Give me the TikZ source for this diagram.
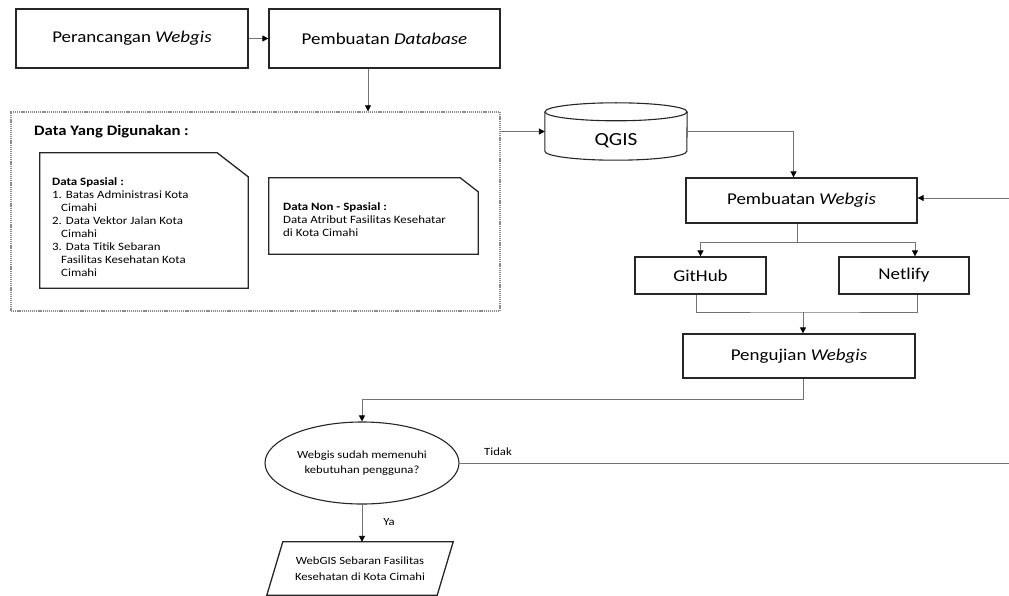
\documentclass[tikz,border=0pt]{standalone}
\usepackage{fontspec}
\setmainfont{Carlito}[FakeStretch=1.15]
\usetikzlibrary{arrows.meta,shapes.geometric}
\begin{document}
\begin{tikzpicture}[x=1pt,y=-1pt,
  box/.style={draw=black!85, line width=1.3pt, inner sep=0pt, font=\fontsize{16.5}{19}\selectfont},
  plain/.style={inner sep=0pt},
  con/.style={draw=black!55, line width=0.9pt},
  arr/.style={con, -{Triangle[length=6pt,width=6pt,black]}},
  small/.style={font=\fontsize{11.2}{13}\selectfont, align=left, inner sep=0pt},
  shapeline/.style={draw=black!85, line width=1.3pt, line join=miter}
]
\useasboundingbox (0,0) rectangle (1009,596);

% top row
\node[box, minimum width=232pt, minimum height=59pt] (p1) at (132,38.5) {Perancangan \textit{Webgis}};
\node[box, minimum width=231pt, minimum height=59pt] (p2) at (384.5,38.5) {Pembuatan \textit{Database}};
\draw[arr] (p1.east) -- (p2.west);

% data box
\node[draw=black!45, line width=1.4pt, dash pattern=on 1.2pt off 0.9pt, minimum width=489pt, minimum height=199pt, inner sep=0pt] (data) at (255.5,211.5) {};
\draw[arr] ([xshift=-16.5pt]p2.south) -- ([xshift=-16.5pt]p2.south |- data.north);
\node[plain, anchor=west, font=\fontsize{14.5}{17}\selectfont\bfseries] (dtitle) at (34,132) {Data Yang Digunakan :};

% data spasial
\node[plain, minimum width=208pt, minimum height=135pt] (sp) at (144,220.5) {};
\draw[shapeline] (sp.south west) -- (sp.north west) -- ([xshift=-31pt]sp.north east) -- ([yshift=-24pt]sp.north east) -- (sp.south east) -- cycle;
\node[small, anchor=north west] (sptext) at (52,177) {\textbf{Data Spasial :}\\
1. Batas Administrasi Kota\\
\hspace*{9pt}Cimahi\\
2. Data Vektor Jalan Kota\\
\hspace*{9pt}Cimahi\\
3. Data Titik Sebaran\\
\hspace*{9pt}Fasilitas Kesehatan Kota\\
\hspace*{9pt}Cimahi};

% data non spasial
\node[plain, minimum width=209pt, minimum height=76pt] (ns) at (373.5,216) {};
\draw[shapeline] (ns.south west) -- (ns.north west) -- ([xshift=-18pt]ns.north east) -- ([yshift=-14pt]ns.north east) -- (ns.south east) -- cycle;
\node[small, anchor=west] (nstext) at (283,220) {\textbf{Data Non - Spasial :}\\
Data Atribut Fasilitas Kesehatar\\
di Kota Cimahi};

% QGIS cylinder
\node[plain, minimum width=142pt, minimum height=57pt] (qgis) at (616,131.5) {};
\draw[draw=black!85, line width=1.1pt] ([yshift=-9pt]qgis.north west) -- ([yshift=9pt]qgis.south west)
  arc[start angle=180, end angle=360, x radius=71pt, y radius=9pt] -- ([yshift=-9pt]qgis.north east);
\draw[draw=black!85, line width=1.1pt] ([yshift=-9pt]qgis.north) ellipse[x radius=71pt, y radius=9pt];
\node[plain, font=\fontsize{18.5}{21}\selectfont] (qgistext) at ([yshift=-9pt]qgis.center) {QGIS};
\draw[arr] (qgis.west -| data.east) -- (qgis.west);

% pembuatan webgis
\node[box, minimum width=231pt, minimum height=45pt] (pw) at (801.5,200.5) {Pembuatan \textit{Webgis}};
\draw[arr] (qgis.east) -| ([xshift=-8pt]pw.north);
\coordinate (fbin) at (1009,198);
\draw[arr] (fbin) -- (fbin -| pw.east);

% github / netlify
\node[box, minimum width=131pt, minimum height=37pt] (gh) at (700.5,275.5) {GitHub};
\node[box, minimum width=130pt, minimum height=37pt] (nf) at (904,275.5) {Netlify};
\coordinate (split) at (797,242);
\draw[con] ([xshift=-4.5pt]pw.south) -- (split);
\draw[arr] (split) -| (gh.north);
\draw[arr] (split) -| ([xshift=11pt]nf.north);

% pengujian
\node[box, minimum width=232pt, minimum height=44pt] (pu) at (799,356) {Pengujian \textit{Webgis}};
\coordinate (join) at (803,312);
\draw[con] ([xshift=-4pt]gh.south) |- (join) -| ([xshift=13pt]nf.south);
\draw[arr] (join) -- (join |- pu.north);

% decision
\node[ellipse, draw=black!85, line width=1.1pt, minimum width=194pt, minimum height=82pt, inner sep=0pt, align=center, font=\fontsize{11}{15}\selectfont] (dec) at (362,463) {Webgis sudah memenuhi\\kebutuhan pengguna?};
\draw[arr] ([xshift=4pt]pu.south) |- (dec.north |- 0,399) -- (dec.north);
\coordinate (fbout) at (1009,463);
\draw[con] (dec.east) -- (fbout);
\node[plain, font=\fontsize{11}{13}\selectfont] (tidak) at (498,452) {Tidak};

% output
\node[plain, minimum width=170pt, minimum height=53pt, align=center, font=\fontsize{11}{16}\selectfont] (out) at (360,568.5) {WebGIS Sebaran Fasilitas\\Kesehatan di Kota Cimahi};
\draw[shapeline] ([xshift=8pt]out.north west) -- ([xshift=8pt]out.north east) -- ([xshift=-8pt]out.south east) -- ([xshift=-8pt]out.south west) -- cycle;
\draw[arr] (dec.south) -- (dec.south |- out.north);
\node[plain, font=\fontsize{11}{13}\selectfont] (ya) at (389,522) {Ya};
\end{tikzpicture}
\end{document}
